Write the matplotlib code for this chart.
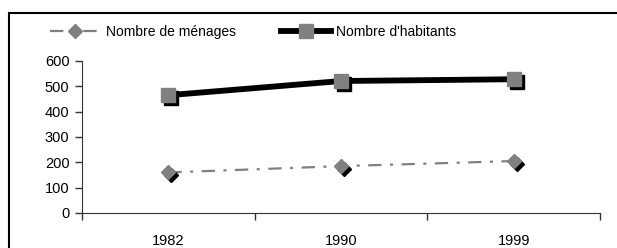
import matplotlib
matplotlib.use("Agg")
import matplotlib.pyplot as plt
import matplotlib.transforms as mtransforms
from matplotlib.lines import Line2D
from matplotlib.patches import Rectangle

years = ["1982", "1990", "1999"]
menages = [160, 185, 205]
habitants = [465, 521, 528]
yticks = [0, 100, 200, 300, 400, 500, 600]

plt.rcParams['font.family'] = ['Liberation Sans', 'DejaVu Sans']
plt.rcParams['font.size'] = 10.5

W, H = 617, 248
fig = plt.figure(figsize=(W / 100, H / 100), dpi=100)
ax = fig.add_axes([82 / W, 1 - 213 / H, (600 - 82) / W, (213 - 61) / H])

x = list(range(len(years)))
shadow = mtransforms.offset_copy(ax.transData, fig=fig, x=3, y=-3, units='dots')
dash = (6, 3.8, 1.4, 3.8)

# habitants
ax.plot(x, habitants, color='black', lw=4.2, zorder=3, solid_capstyle='butt')
ax.plot(x, habitants, ls='none', marker='s', ms=10, color='black', transform=shadow, zorder=4)
ax.plot(x, habitants, ls='none', marker='s', ms=10, color='#808080', mec='#808080', zorder=5)

# menages
ax.plot(x, menages, color='#808080', lw=1.6, dashes=dash, zorder=3)
ax.plot(x, menages, ls='none', marker='D', ms=7.5, color='black', transform=shadow, zorder=4)
ax.plot(x, menages, ls='none', marker='D', ms=7.5, color='#808080', mec='#808080', zorder=5)

ax.set_xlim(-0.5, 2.5)
ax.set_ylim(0, 600)
ax.set_yticks(yticks)
ax.set_yticklabels([str(v) for v in yticks])
ax.set_xticks([-0.5, 0.5, 1.5, 2.5])
ax.set_xticks(x, minor=True)
ax.set_xticklabels([])
ax.set_xticklabels(years, minor=True)
ax.tick_params(axis='x', which='minor', length=0, pad=15)
ax.tick_params(axis='x', which='major', length=5, direction='out', width=1, color='#333333')
ax.tick_params(axis='y', length=5, direction='out', width=1, color='#333333', pad=4)
for s in ['top', 'right']:
    ax.spines[s].set_visible(False)
ax.spines['left'].set_color('#333333')
ax.spines['bottom'].set_color('#333333')
ax.patch.set_alpha(0)

# outer border
fig.patches.append(Rectangle((9 / W, -0.1), 1.2, 1 - 13 / H + 0.1, transform=fig.transFigure,
                             fill=False, ec='black', lw=1.5))

# legend
h1 = Line2D([], [], color='#808080', lw=1.6, dashes=dash, marker='D', ms=7.5,
            mfc='#808080', mec='#808080')
h2 = Line2D([], [], color='black', lw=4.2, marker='s', ms=10, mfc='#808080', mec='#808080')
leg = fig.legend([h1, h2], ["Nombre de ménages", "Nombre d'habitants"], loc='center left',
                 bbox_to_anchor=(50 / W, 1 - 32 / H), ncol=2, frameon=False,
                 handlelength=3.6, handletextpad=0.4, columnspacing=3.25, fontsize=10,
                 borderpad=0, borderaxespad=0)

fig.savefig("out.png", dpi=100)
